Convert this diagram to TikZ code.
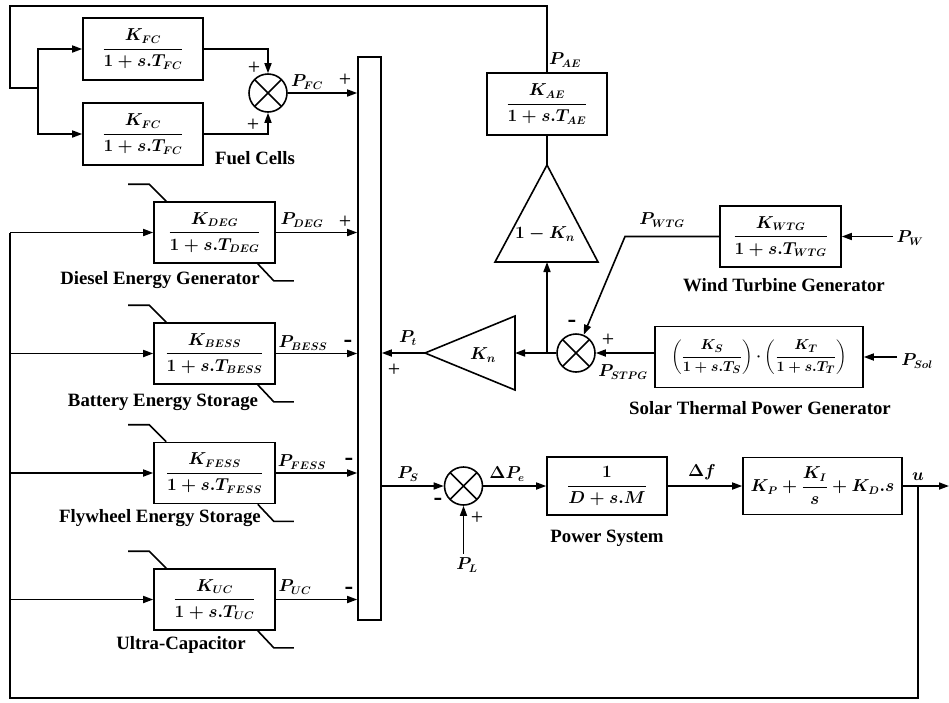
\documentclass[tikz,border=0pt]{standalone}
\usepackage{amsmath}
\usepackage{fontspec}
\setmainfont{Liberation Serif}
\usetikzlibrary{positioning,arrows.meta,calc}

\begin{document}
\begin{tikzpicture}[x=1pt, y=-1pt, line width=1.6pt,
  every node/.style={font=\fontsize{16}{19}\selectfont\boldmath},
  blk/.style={draw, minimum width=121pt, minimum height=61pt, inner sep=2pt},
  sumj/.style={draw, circle, minimum size=38pt, inner sep=0pt,
    path picture={\draw (path picture bounding box.north west) -- (path picture bounding box.south east)
      (path picture bounding box.south west) -- (path picture bounding box.north east);}},
  gain/.style={font=\fontsize{18}{21}\selectfont\boldmath},
  lbl/.style={font=\fontsize{18.8}{22}\selectfont\bfseries},
  sgn/.style={font=\fontsize{22}{24}\selectfont},
  neg/.style={font=\fontsize{26}{28}\selectfont\bfseries},
  >={Triangle[length=10pt, width=7pt]}]
    \useasboundingbox (0,0) rectangle (949,702);

    \node[blk, minimum width=120pt, minimum height=62pt] (fc1) at (143,49) {$\dfrac{K_{FC}}{1+s.T_{FC}}$};
    \node[blk, minimum width=120pt, minimum height=62pt] (fc2) at (143,134) {$\dfrac{K_{FC}}{1+s.T_{FC}}$};
    \node[sumj] (sumfc) at (268,93) {};
    \node[draw, minimum width=23pt, minimum height=563pt, inner sep=0pt] (bar) at (369.5,338.5) {};
    \coordinate (fcbr) at (38,88);
    \coordinate (tl) at (10,6);
    \coordinate (fbl) at (10,698);

    \node[blk] (deg) at (214.5,232.5) {$\dfrac{K_{DEG}}{1+s.T_{DEG}}$};
    \node[blk] (bess) at (214.5,353.5) {$\dfrac{K_{BESS}}{1+s.T_{BESS}}$};
    \node[blk] (fess) at (214.5,473) {$\dfrac{K_{FESS}}{1+s.T_{FESS}}$};
    \node[blk] (uc) at (214.5,599.5) {$\dfrac{K_{UC}}{1+s.T_{UC}}$};

    \node[blk, minimum width=120pt, minimum height=62pt] (ae) at (547,104) {$\dfrac{K_{AE}}{1+s.T_{AE}}$};
    \coordinate (oknapex) at (547,165);
    \coordinate (oknbase) at (547,262);
    \node[gain] (okn) at (545,234) {$1-K_n$};
    \coordinate (kntip) at (425,353);
    \coordinate (knbase) at (515,353);
    \node[gain] (kn) at (483,355) {$K_n$};
    \node[sumj] (sumst) at (576,353) {};
    \coordinate (knbr) at (547,353);

    \node[blk] (wtg) at (780.5,236.5) {$\dfrac{K_{WTG}}{1+s.T_{WTG}}$};
    \coordinate (wcorner) at (625,236.5);
    \node[blk, minimum width=208pt, font=\fontsize{15}{18}\selectfont\boldmath] (solar) at (759,357) {$\left(\dfrac{K_S}{1+s.T_S}\right)\cdot\left(\dfrac{K_T}{1+s.T_T}\right)$};
    \node (pw) at (910,238) {$P_W$};
    \node (psol) at (917,361) {$P_{Sol}$};

    \node[sumj] (sump) at (463.5,486) {};
    \node[blk, minimum width=120pt, minimum height=58pt] (ps) at (607,486) {$\dfrac{1}{D+s.M}$};
    \node[blk, minimum width=159pt, minimum height=57pt] (pid) at (822.5,486) {$K_P+\dfrac{K_I}{s}+K_D.s$};
    \node (pl) at (467,565) {$P_L$};
    \coordinate (ubr) at (918,486);
    \coordinate (uend) at (949,486);

    \draw (ae) -- (ae |- tl) -- (tl) |- (fcbr);
    \draw[->] (fcbr) |- (fc1);
    \draw[->] (fcbr) |- (fc2);
    \draw[->] (fc1) -| (sumfc);
    \draw[->] (fc2) -| (sumfc);
    \draw[->] (sumfc) -- (sumfc -| bar.west);
    \foreach \b in {deg,bess,fess,uc}{
      \draw[->] (fbl |- \b) -- (\b);
      \draw[->] (\b) -- (\b -| bar.west);
      \draw ([xshift=13pt]\b.north west) -- ++(-17,-17) -- ++(-21,0);
      \draw ([xshift=-18pt]\b.south east) -- ++(16,17) -- ++(20,0);
    }

    \draw (oknapex) -- (ae);
    \draw (495,262) -- (oknapex) -- (598,262) -- cycle;
    \draw (kntip) -- (515,316) -- (515,390) -- cycle;
    \draw[->] (kntip) -- (kntip -| bar.east);
    \draw[->] (sumst) -- (knbase);
    \draw[->] (knbr) -- (oknbase);
    \draw[->] (wtg) -- (wcorner) -- (sumst);
    \draw[->] (solar.west |- sumst) -- (sumst);
    \draw[->] (pw.west |- wtg) -- (wtg);
    \draw[->] (psol.west |- solar) -- (solar);

    \draw[->] (bar.east |- sump) -- (sump);
    \draw[->] (pl.north -| sump) -- (sump);
    \draw[->] (sump) -- (ps);
    \draw[->] (ps) -- (pid);
    \draw[->] (pid) -- (uend);
    \draw (ubr) |- (fbl) -- (fbl |- deg);

    \node (pfc) at (307,82) {$P_{FC}$};
    \node (pdeg) at (302,220) {$P_{DEG}$};
    \node (pbess) at (303,343) {$P_{BESS}$};
    \node (pfess) at (302,462) {$P_{FESS}$};
    \node (puc) at (295,587) {$P_{UC}$};
    \node (pae) at (565,60) {$P_{AE}$};
    \node (pt) at (408,338) {$P_t$};
    \node (pwtg) at (662,220) {$P_{WTG}$};
    \node (pstpg) at (623,372) {$P_{STPG}$};
    \node (pss) at (408,474) {$P_S$};
    \node (dpe) at (507,474) {$\Delta P_e$};
    \node (df) at (702,472) {$\Delta f$};
    \node (u) at (918,477) {$u$};

    \node[sgn] (sg1) at (254,68) {+};
    \node[sgn] (sg2) at (253,125) {+};
    \node[sgn] (sg3) at (345,80) {+};
    \node[sgn] (sg4) at (345,222) {+};
    \node[neg] (sg5) at (348,344) {-};
    \node[neg] (sg6) at (349,462) {-};
    \node[neg] (sg7) at (349,591) {-};
    \node[sgn] (sg8) at (394,370) {+};
    \node[neg] (sg9) at (572,324) {-};
    \node[sgn] (sg10) at (608,340) {+};
    \node[neg] (sg11) at (438,502) {-};
    \node[sgn] (sg12) at (477,518) {+};

    \node[lbl] (fclab) at (255,158) {Fuel Cells};
    \node[lbl] (deglab) at (160,280) {Diesel Energy Generator};
    \node[lbl] (besslab) at (163,402) {Battery Energy Storage};
    \node[lbl] (fesslab) at (160,518) {Flywheel Energy Storage};
    \node[lbl] (uclab) at (181,645) {Ultra-Capacitor};
    \node[lbl] (wtglab) at (784,285) {Wind Turbine Generator};
    \node[lbl] (stlab) at (760,408) {Solar Thermal Power Generator};
    \node[lbl] (pslab) at (607,538) {Power System};
  \end{tikzpicture}
\end{document}
